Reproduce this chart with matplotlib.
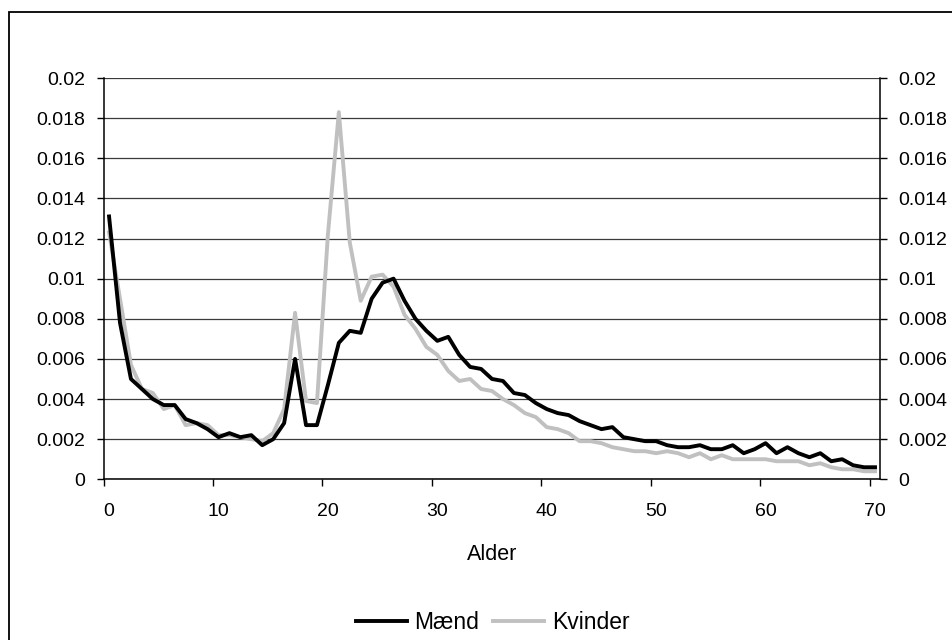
import numpy as np
import matplotlib.pyplot as plt
from matplotlib.patches import Rectangle

plt.rcParams['font.family'] = ['Liberation Sans', 'DejaVu Sans']
plt.rcParams['font.size'] = 14

# ages 0..70 (one category per year)
ages = list(range(71))

# Mænd (black line)
maend = [0.0131, 0.0078, 0.0050, 0.0045, 0.0040, 0.0037, 0.0037, 0.0030, 0.0028, 0.0025,
         0.0021, 0.0023, 0.0021, 0.0022, 0.0017, 0.0020, 0.0028, 0.0060, 0.0027, 0.0027,
         0.0047, 0.0068, 0.0074, 0.0073, 0.0090, 0.0098, 0.0100, 0.0089, 0.0080, 0.0074,
         0.0069, 0.0071, 0.0062, 0.0056, 0.0055, 0.0050, 0.0049, 0.0043, 0.0042, 0.0038,
         0.0035, 0.0033, 0.0032, 0.0029, 0.0027, 0.0025, 0.0026, 0.0021, 0.0020, 0.0019,
         0.0019, 0.0017, 0.0016, 0.0016, 0.0017, 0.0015, 0.0015, 0.0017, 0.0013, 0.0015,
         0.0018, 0.0013, 0.0016, 0.0013, 0.0011, 0.0013, 0.0009, 0.0010, 0.0007, 0.0006,
         0.0006]

# Kvinder (grey line)
kvinder = [0.0123, 0.0090, 0.0057, 0.0045, 0.0043, 0.0035, 0.0037, 0.0027, 0.0028, 0.0027,
           0.0022, 0.0022, 0.0021, 0.0020, 0.0019, 0.0023, 0.0035, 0.0083, 0.0039, 0.0038,
           0.0122, 0.0183, 0.0118, 0.0089, 0.0101, 0.0102, 0.0096, 0.0082, 0.0075, 0.0066,
           0.0062, 0.0054, 0.0049, 0.0050, 0.0045, 0.0044, 0.0040, 0.0037, 0.0033, 0.0031,
           0.0026, 0.0025, 0.0023, 0.0019, 0.0019, 0.0018, 0.0016, 0.0015, 0.0014, 0.0014,
           0.0013, 0.0014, 0.0013, 0.0011, 0.0013, 0.0010, 0.0012, 0.0010, 0.0010, 0.0010,
           0.0010, 0.0009, 0.0009, 0.0009, 0.0007, 0.0008, 0.0006, 0.0005, 0.0005, 0.0004,
           0.0004]

xtick_vals = [0, 10, 20, 30, 40, 50, 60, 70]
ytick_vals = [0, 0.002, 0.004, 0.006, 0.008, 0.01, 0.012, 0.014, 0.016, 0.018, 0.02]
ytick_labels = ['0', '0.002', '0.004', '0.006', '0.008', '0.01', '0.012', '0.014', '0.016', '0.018', '0.02']

fig = plt.figure(figsize=(9.53, 6.4), dpi=100)
ax = fig.add_axes([0.1087, 0.2511, 0.8152, 0.6270])

# outer chart frame (bottom and right edges run off the picture)
fig.patches.append(Rectangle((9/953, -0.05), 1.1, 1.05 - 12/640,
                             transform=fig.transFigure, fill=False, lw=1.3, ec='black'))

ax.plot(ages, maend, color='black', lw=2.8, label='Mænd', zorder=3)
ax.plot(ages, kvinder, color='#c0c0c0', lw=2.8, label='Kvinder', zorder=2)

ax.set_xlim(-0.5, 70.5)
ax.set_ylim(0, 0.02)

# labels sit on the categories, tick marks sit between them
ax.set_xticks(xtick_vals)
ax.set_xticklabels([str(v) for v in xtick_vals])
ax.set_xticks([v - 0.5 for v in xtick_vals], minor=True)
ax.tick_params(axis='x', which='major', length=0, pad=17)
ax.tick_params(axis='x', which='minor', length=5, direction='out', width=1)

ax.set_yticks(ytick_vals)
ax.set_yticklabels(ytick_labels)
ax.tick_params(axis='y', which='major', left=True, right=True, labelleft=True, labelright=True,
               length=5, direction='out', width=1, pad=8)

ax.grid(axis='y', color='#3a3a3a', lw=0.9)
ax.set_axisbelow(True)
for s in ['left', 'right', 'bottom']:
    ax.spines[s].set_linewidth(1.1)
ax.spines['top'].set_visible(False)

ax.set_xlabel('Alder', fontsize=15.5, labelpad=17)

fig.legend(loc='center', bbox_to_anchor=(0.517, 0.027), ncol=2, frameon=False, fontsize=16.5,
           handlelength=2.2, handletextpad=0.35, columnspacing=0.6)

plt.savefig('out.png', dpi=100)
